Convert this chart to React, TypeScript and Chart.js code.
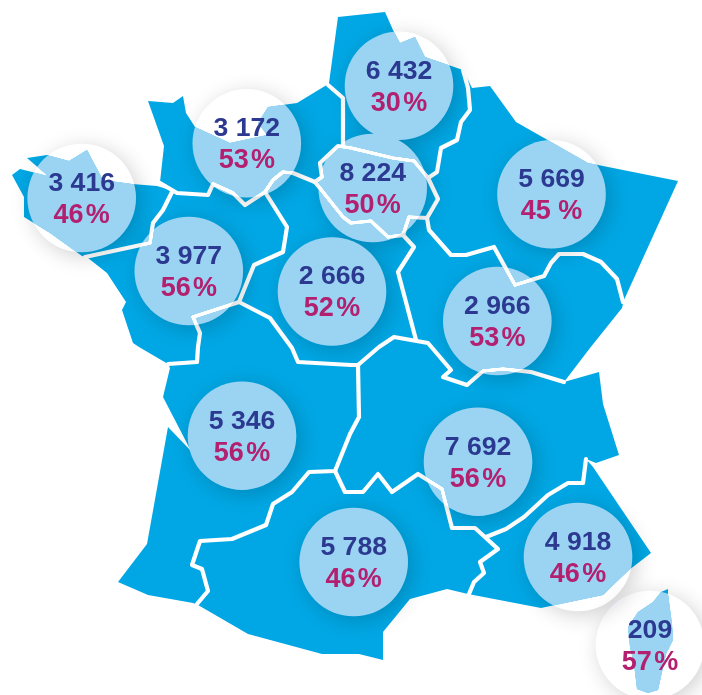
import React, { useEffect, useRef } from "react";
import { Chart, registerables } from "chart.js";

Chart.register(...registerables);

type P = [number, number];

// Regions (bubble centres on the map plane, then the label values)
const centerX = [81.7, 246.8, 188.8, 332, 399, 372.7, 551.5, 497.3, 242, 478, 353.7, 578, 650];
const centerY = [198, 143.3, 271, 291.5, 85.8, 188, 194.3, 321, 435.7, 461.7, 562, 557, 645];
const counts = ["3 416", "3 172", "3 977", "2 666", "6 432", "8 224", "5 669", "2 966", "5 346", "7 692", "5 788", "4 918", "209"];
const shares = ["46\u200A%", "53\u200A%", "56\u200A%", "52\u200A%", "30\u200A%", "50\u200A%", "45 %", "53\u200A%", "56\u200A%", "56\u200A%", "46\u200A%", "46\u200A%", "57\u200A%"];

// Map outlines
const mainland: P[] = [
  [338,17],[385,12],[393,30],[400,43],[415,37],[425,57],[463,70],[472,88],[490,86],[516,122],[588,163],[678,181],
  [624,300],[622,308],[590,348],[564,382],[599,372],[603,404],[619,455],[596,463],[586,459],[593,467],[651,553],
  [629,570],[603,595],[541,608],[468,594],[447,589],[410,599],[383,632],[383,660],[359,654],[322,654],[248,634],
  [198,605],[193,603],[148,595],[118,582],[147,544],[168,427],[191,451],[163,397],[170,368],[168,364],[139,347],
  [133,343],[122,310],[126,302],[107,273],[88,258],[82,256],[50,233],[24,217],[24,197],[12,175],[20,169],[48,176],
  [27,158],[47,155],[69,161],[87,150],[103,180],[132,184],[157,186],[170,190],[160,182],[164,146],[148,101],
  [173,103],[183,96],[186,113],[195,127],[230,143],[267,135],[258,123],[268,107],[297,103],[325,86],[329,83],[338,17],
];
const corsica: P[] = [
  [661,592],[668,589],[668,594],[672,624],[673,640],[666,654],[658,690],[648,693],[637,689],[634,664],[630,647],
  [628,627],[638,612],[653,602],[661,592],
];

// Region borders
const borderBrittany: P[] = [[172,192],[163,210],[153,223],[150,243],[127,248],[85,257]];
const borderNormandy: P[] = [[160,183],[177,193],[208,195],[213,184],[233,193],[245,205],[265,192],[273,180],[283,172],[293,173],[315,182]];
const borderCentreWest: P[] = [[265,192],[287,227],[283,252],[254,265],[239,302],[193,317],[200,333],[198,347],[197,362],[168,364]];
const borderCentreSouth: P[] = [[239,302],[270,318],[292,348],[298,362],[351,365],[358,365],[359,417],[350,434],[335,471],[309,472],[292,492],[273,504],[266,525],[232,539],[200,541],[192,565],[202,569],[208,591],[197,604]];
const borderOccitanieEast: P[] = [[335,471],[345,492],[363,492],[378,474],[392,492],[418,474],[442,489],[452,528],[475,528],[498,549],[480,562],[484,573],[474,582],[469,594]];
const borderProvence: P[] = [[486,537],[506,529],[524,517],[548,495],[568,483],[583,483],[586,459]];
const borderBurgundy: P[] = [[358,365],[379,347],[394,337],[428,343],[451,370],[443,377],[467,385],[483,371],[503,369],[531,372],[564,382]];
const borderCentreEast: P[] = [[403,235],[414,247],[398,272],[416,340]];
const borderParisRing: P[] = [[315,182],[322,177],[320,163],[338,146],[351,148],[393,158],[414,161],[428,178],[438,199],[427,218],[409,217],[403,235],[388,237],[371,221],[351,223],[343,217],[315,182]];
const borderNorthWest: P[] = [[343,145],[343,98],[328,85]];
const borderNorthEast: P[] = [[463,70],[468,88],[470,110],[461,122],[457,140],[441,148],[437,172],[428,178]];
const borderGrandEst: P[] = [[427,218],[429,230],[451,255],[466,255],[494,247],[515,285],[544,276],[551,263],[559,254],[583,254],[601,262],[617,279],[623,302]];

const outlines = [mainland, corsica];
const borders = [
  borderBrittany, borderNormandy, borderCentreWest, borderCentreSouth, borderOccitanieEast, borderProvence,
  borderBurgundy, borderCentreEast, borderParisRing, borderNorthWest, borderNorthEast, borderGrandEst,
];

const WIDTH = 702;
const HEIGHT = 695;
const BUBBLE_R = 54.3;
const FONT = '"Liberation Sans", Arial, sans-serif';

const toPoints = (pts: P[]) => pts.map(([x, y]) => ({ x, y }));

const isBubble = (meta: any) => meta.type === "bubble";

const bubblePlugin = {
  id: "bubbleLook",
  beforeDraw(chart: any) {
    const ctx = chart.ctx;
    ctx.save();
    ctx.fillStyle = "#FFFFFF";
    ctx.fillRect(0, 0, chart.width, chart.height);
    ctx.restore();
  },
  beforeDatasetDraw(chart: any, args: any) {
    if (!isBubble(args.meta)) return;
    const ctx = chart.ctx;
    args.meta.data.forEach((pt: any) => {
      ctx.save();
      ctx.beginPath();
      ctx.rect(0, 0, chart.width, chart.height);
      ctx.arc(pt.x, pt.y, BUBBLE_R, 0, Math.PI * 2, true);
      ctx.clip("evenodd");
      ctx.shadowColor = "rgba(0,0,0,0.2)";
      ctx.shadowBlur = 22;
      ctx.shadowOffsetX = 4;
      ctx.shadowOffsetY = 4;
      ctx.fillStyle = "#000";
      ctx.beginPath();
      ctx.arc(pt.x, pt.y, BUBBLE_R - 1, 0, Math.PI * 2);
      ctx.fill();
      ctx.restore();
    });
    ctx.save();
    ctx.globalCompositeOperation = "lighten";
  },
  afterDatasetDraw(chart: any, args: any) {
    if (isBubble(args.meta)) chart.ctx.restore();
  },
  afterDatasetsDraw(chart: any) {
    const ctx = chart.ctx;
    const meta = chart.getSortedVisibleDatasetMetas().find(isBubble);
    if (!meta) return;
    ctx.save();
    ctx.textAlign = "center";
    ctx.textBaseline = "middle";
    meta.data.forEach((pt: any, i: number) => {
      ctx.font = `bold 26.6px ${FONT}`;
      ctx.fillStyle = "#2B3990";
      ctx.fillText(counts[i], pt.x, pt.y - 14.5);
      ctx.font = `bold 27px ${FONT}`;
      ctx.fillStyle = "#B2206F";
      ctx.fillText(shares[i], pt.x, pt.y + 17.5);
    });
    ctx.restore();
  },
};

export default function App() {
  const ref = useRef<HTMLCanvasElement>(null);
  useEffect(() => {
    const chart = new Chart(ref.current as HTMLCanvasElement, {
      type: "scatter",
      data: {
        datasets: [
          ...outlines.map((o) => ({
            type: "line",
            data: toPoints(o),
            backgroundColor: "#00A7E4",
            borderWidth: 0,
            pointRadius: 0,
            tension: 0,
            fill: "shape",
            order: 3,
          })),
          ...borders.map((b) => ({
            type: "line",
            data: toPoints(b),
            borderColor: "#FFFFFF",
            borderWidth: 4.2,
            borderJoinStyle: "round",
            borderCapStyle: "round",
            pointRadius: 0,
            tension: 0,
            fill: false,
            order: 2,
          })),
          {
            type: "bubble",
            data: centerX.map((x, i) => ({ x, y: centerY[i], r: BUBBLE_R })),
            backgroundColor: "#9BD3F2",
            borderWidth: 0,
            order: 1,
          },
        ],
      } as any,
      options: {
        animation: false,
        responsive: false,
        events: [],
        layout: { padding: 0, autoPadding: false },
        plugins: { legend: { display: false }, tooltip: { enabled: false }, title: { display: false } },
        scales: {
          x: { type: "linear", display: false, min: 0, max: WIDTH },
          y: { type: "linear", display: false, min: 0, max: HEIGHT, reverse: true },
        },
      } as any,
      plugins: [bubblePlugin],
    });
    return () => chart.destroy();
  }, []);
  return (
    <div style={{ position: "fixed", left: 0, top: 0, width: WIDTH, height: HEIGHT, background: "#fff" }}>
      <canvas ref={ref} width={WIDTH} height={HEIGHT} style={{ display: "block" }} />
    </div>
  );
}
